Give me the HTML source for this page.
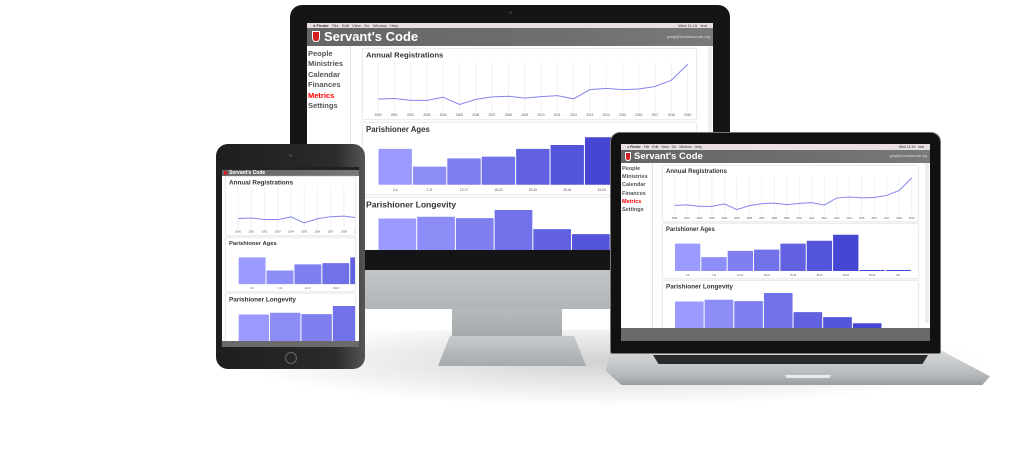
<!DOCTYPE html>
<html><head><meta charset="utf-8">
<style>
*{margin:0;padding:0;box-sizing:border-box}
body{width:1024px;height:457px;background:#fff;position:relative;overflow:hidden;font-family:"Liberation Sans",sans-serif}
.abs{position:absolute}
.screen{position:absolute;background:#fff;overflow:hidden}
.menubar{position:absolute;left:0;top:0;width:100%;background:#e9dfe0;color:#333;white-space:nowrap;overflow:hidden}
.hdr{position:absolute;left:0;width:100%;background:linear-gradient(100deg,#666 0%,#6e6e6e 60%,#7a7a7a 100%);color:#fff;white-space:nowrap;overflow:hidden}
.hdr .t{position:absolute;font-weight:bold}
.hdr .u{position:absolute;right:3px;color:#ddd}
.shield{position:absolute;background:#d42020;border:1px solid #fff;border-radius:0 0 40% 40%}
.side{position:absolute;left:0;border-right:1px solid #e4e4e4;background:#fff}
.side div{position:absolute;left:1px;font-weight:bold;color:#555;white-space:nowrap}
.side .on{color:#f00}
.card{position:absolute;border:1px solid #ececec;border-radius:2px;background:#fff;overflow:hidden;box-shadow:0 0 1px #ddd}
.card svg{position:absolute;left:0;top:0}
</style></head><body>

<div class="abs" style="left:200px;top:330px;width:820px;height:80px;background:radial-gradient(ellipse at 50% 40%,rgba(0,0,0,0.18),rgba(0,0,0,0) 65%)"></div>

<!-- MONITOR -->
<div class="abs" style="left:452px;top:305px;width:110px;height:40px;background:linear-gradient(#b9bdbf,#9ea3a6)"></div>
<div class="abs" style="left:438px;top:336px;width:148px;height:30px;background:linear-gradient(#c6cacc,#a5aaad);clip-path:polygon(8% 0,92% 0,100% 100%,0 100%)"></div>
<div class="abs" style="left:290px;top:265px;width:440px;height:44px;background:linear-gradient(#c4c8c9,#b1b5b7);border-radius:0 0 10px 10px"></div>
<div class="abs" style="left:290px;top:5px;width:440px;height:265px;background:#151517;border-radius:12px 12px 0 0"></div>
<div class="abs" style="left:509px;top:11px;width:3px;height:3px;border-radius:50%;background:#333"></div>

<div class="screen" id="monScreen" style="left:307px;top:23px;width:406px;height:227px">
 <div class="menubar" style="height:5px;font-size:4px;line-height:5px;padding-left:6px">&#9679; <b>Finder</b> &nbsp; File &nbsp; Edit &nbsp; View &nbsp; Go &nbsp; Window &nbsp; Help<span style="position:absolute;right:6px">Wed 11:19 &nbsp; test</span></div>
 <div class="hdr" style="top:5px;height:18px">
  <div class="shield" style="left:5px;top:3px;width:8px;height:11px"></div>
  <div class="t" style="left:17px;top:1px;font-size:13px;line-height:16px">Servant's Code</div>
  <div class="u" style="top:6px;font-size:4px">greg@servantscode.org</div>
 </div>
 <div class="side" style="top:23px;width:44px;height:204px;font-size:7.5px">
  <div style="top:3px">People</div>
  <div style="top:13px">Ministries</div>
  <div style="top:24px">Calendar</div>
  <div style="top:34px">Finances</div>
  <div class="on" style="top:45px">Metrics</div>
  <div style="top:55px">Settings</div>
 </div>
 <div class="card" data-chart="line" style="left:55px;top:25px;width:335px;height:72px"></div>
 <div class="card" data-chart="ages" style="left:55px;top:99px;width:335px;height:73px"></div>
 <div class="card" data-chart="long" style="left:55px;top:174px;width:335px;height:80px"></div>
 <div class="abs" style="left:401px;top:23px;width:4px;height:204px;background:#f0f0f0"></div>
</div>

<!-- TABLET -->
<div class="abs" style="left:216px;top:144px;width:149px;height:225px;background:linear-gradient(90deg,#1e1e1e,#2b2b2b 80%,#555 100%);border-radius:12px"></div>
<div class="abs" style="left:289px;top:154px;width:3px;height:3px;border-radius:50%;background:#444"></div>
<div class="abs" style="left:285px;top:352px;width:12px;height:12px;border-radius:50%;border:1px solid #666"></div>
<div class="screen" style="left:222px;top:167px;width:137px;height:180px">
 <div class="menubar" style="height:3px;background:#222"></div>
 <div class="hdr" style="top:3px;height:6px">
  <div class="shield" style="left:2px;top:1px;width:3px;height:4px;border:0"></div>
  <div class="t" style="left:7px;top:0;font-size:5px;line-height:6px">Servant's Code</div>
 </div>
 <div class="card" data-chart="line" data-vw="270" style="left:3px;top:9px;width:131px;height:60px"></div>
 <div class="card" data-chart="ages" data-vw="270" style="left:3px;top:70px;width:131px;height:55px"></div>
 <div class="card" data-chart="long" data-vw="270" style="left:3px;top:126px;width:131px;height:60px"></div>
 <div class="abs" style="left:0;top:174px;width:137px;height:6px;background:#6a6a6a"></div>
</div>

<!-- LAPTOP -->
<div class="abs" style="left:606px;top:350px;width:384px;height:35px;background:linear-gradient(#d8dadb,#b7babc 70%,#9a9da0);clip-path:polygon(1% 0,87% 0,100% 75%,98% 100%,4% 100%,0 60%);border-radius:0 0 6px 6px"></div>
<div class="abs" style="left:653px;top:355px;width:275px;height:9px;background:#2a2b2d;clip-path:polygon(0 0,100% 0,98% 100%,2% 100%)"></div>
<div class="abs" style="left:785px;top:375px;width:46px;height:3px;background:#e9eaeb;border-radius:0 0 3px 3px"></div>
<div class="abs" style="left:610px;top:132px;width:331px;height:222px;background:#111;border-radius:10px 10px 2px 2px;border:1px solid #777"></div>
<div class="screen" style="left:621px;top:144px;width:309px;height:197px">
 <div class="menubar" style="height:6px;font-size:3.5px;line-height:6px;padding-left:6px">&#9679; <b>Finder</b> &nbsp; File &nbsp; Edit &nbsp; View &nbsp; Go &nbsp; Window &nbsp; Help<span style="position:absolute;right:6px">Wed 11:19 &nbsp; test</span></div>
 <div class="hdr" style="top:6px;height:13px">
  <div class="shield" style="left:4px;top:2px;width:6px;height:9px"></div>
  <div class="t" style="left:13px;top:0;font-size:9.5px;line-height:13px">Servant's Code</div>
  <div class="u" style="top:4px;font-size:3.5px">greg@servantscode.org</div>
 </div>
 <div class="side" style="top:19px;width:32px;height:178px;font-size:5.5px">
  <div style="top:3px">People</div>
  <div style="top:11px">Ministries</div>
  <div style="top:19px">Calendar</div>
  <div style="top:28px">Finances</div>
  <div class="on" style="top:36px">Metrics</div>
  <div style="top:44px">Settings</div>
 </div>
 <div class="card" data-chart="line" style="left:41px;top:21px;width:257px;height:57px"></div>
 <div class="card" data-chart="ages" style="left:41px;top:79px;width:257px;height:56px"></div>
 <div class="card" data-chart="long" style="left:41px;top:136px;width:257px;height:60px"></div>
 <div class="abs" style="left:304px;top:19px;width:4px;height:160px;background:#eee"></div>
 <div class="abs" style="left:0;top:184px;width:309px;height:13px;background:#6a6a6a"></div>
</div>

<script>
const years = ["2000","2001","2002","2003","2004","2005","2006","2007","2008","2009","2010","2011","2012","2013","2014","2015","2016","2017","2018","2019"];
const registrations = [32,34,28,28,38,15,31,39,41,35,40,43,33,62,66,62,64,72,92,142];
const ageGroups = ["0-6","7-11","12-17","18-24","25-34","35-44","45-54","55-64","65+"];
const ageCounts = [83,42,61,65,83,92,110,1,1];
const longevityGroups = ["0-1","2-3","4-5","6-10","11-15","16-20","21-30","31+"];
const longevityCounts = [113,118,114,138,82,67,49,0];

const NS = "http://www.w3.org/2000/svg";
function svgEl(tag, parent, attrs){
  const e = document.createElementNS(NS, tag);
  for (const k in attrs) e.setAttribute(k, attrs[k]);
  parent.appendChild(e);
  return e;
}
function barColor(i, n){
  const t = Math.min(1, n > 1 ? i / (n - 1) : 0);
  const r = Math.round(155 + (70 - 155) * t), g = Math.round(155 + (70 - 155) * t), b = Math.round(255 + (210 - 255) * t);
  return "rgb(" + r + "," + g + "," + b + ")";
}
function drawCard(card){
  const w = card.clientWidth, h = card.clientHeight;
  const vw = card.dataset.vw ? +card.dataset.vw : w;
  const type = card.dataset.chart;
  const fs = Math.max(5, h * 0.11);
  const svg = svgEl("svg", card, {width: vw, height: h});
  
  
  const titleText = type === "line" ? "Annual Registrations" : type === "ages" ? "Parishioner Ages" : "Parishioner Longevity";
  const title = svgEl("text", svg, {x: 3, y: fs + 1, "font-size": fs, fill: "#333", "font-family": "Liberation Sans, sans-serif", "font-weight": "bold"});
  title.textContent = titleText;
  
  
  const left = vw * 0.045, right = vw * 0.975;
  const lfs = Math.max(2, h * 0.045);
  if (type === "line"){
    const top = h * 0.22, bot = h * 0.86;
    const n = years.length;
    const step = (right - left) / (n - 1);
    const xS = i => left + i * step;
    const maxV = Math.max(...registrations);
    const yS = v => bot - v / maxV * (bot - top);
    years.forEach((yr, i) => {
      const gl = svgEl("line", svg, {x1: xS(i), x2: xS(i), y1: top - 2, y2: h * 0.9, stroke: "#ececec", "stroke-width": 0.7});
      
      
      const tl = svgEl("text", svg, {x: xS(i), y: h * 0.96, "font-size": lfs, fill: "#555", "text-anchor": "middle", "font-family": "Liberation Sans, sans-serif"});
      tl.textContent = yr;
      
      
    });
    const pts = registrations.map((v, i) => xS(i).toFixed(2) + "," + yS(v).toFixed(2)).join(" ");
    const pl = svgEl("polyline", svg, {points: pts, fill: "none", stroke: "#8585ee", "stroke-width": 1});
    
    
  } else {
    const cats = type === "ages" ? ageGroups : longevityGroups;
    const vals = type === "ages" ? ageCounts : longevityCounts;
    const top = type === "ages" ? h * 0.2 : 12;
    const bot = type === "ages" ? h * 0.87 : top + 47;
    const band = (right - left) / cats.length;
    const maxV = Math.max(...vals);
    const yS = v => bot - v / maxV * (bot - top);
    cats.forEach((c, i) => {
      const x = left + i * band;
      const y = yS(vals[i]);
      const hh = Math.max(1, bot - y);
      const r = svgEl("rect", svg, {x: x + 0.5, y: bot - hh, width: band - 1, height: type === "ages" ? hh : hh + 40, fill: barColor(i, 7), rx: 0.6});
      
      
      if (type === "ages"){
        const tl = svgEl("text", svg, {x: x + band / 2, y: h * 0.96, "font-size": lfs, fill: "#555", "text-anchor": "middle", "font-family": "Liberation Sans, sans-serif"});
        tl.textContent = c;
        
        
      }
    });
  }
}
document.querySelectorAll(".card").forEach(drawCard);
</script>
</body></html>
